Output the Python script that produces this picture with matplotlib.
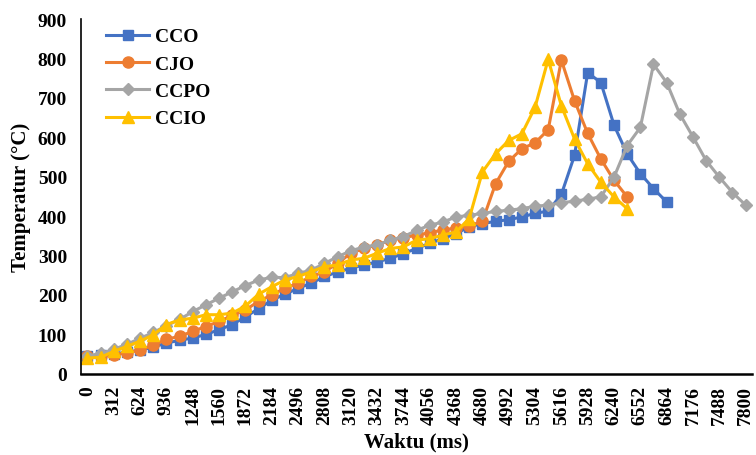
import matplotlib
matplotlib.use("Agg")
import matplotlib.pyplot as plt
import numpy as np

plt.rcParams['font.family'] = ['Liberation Serif', 'DejaVu Serif']
plt.rcParams['font.weight'] = 'bold'

times = list(range(0, 7801, 156))  # ms categories
tick_labels = [str(t) for t in range(0, 7801, 312)]

cco = [45, 47, 50, 55, 60, 68, 78, 85, 91, 100, 112, 125, 145, 165, 187, 202, 217, 230,
       247, 258, 268, 276, 284, 293, 305, 318, 331, 343, 356, 373, 381, 387, 391, 398,
       407, 413, 455, 554, 764, 739, 631, 558, 508, 470, 436]
cjo = [45, 46, 49, 53, 61, 72, 88, 95, 108, 120, 133, 148, 162, 184, 200, 217, 230, 247,
       259, 280, 306, 318, 327, 339, 345, 352, 358, 365, 370, 375, 387, 482, 539, 571,
       586, 619, 796, 693, 610, 545, 491, 449]
ccpo = [45, 52, 62, 75, 90, 105, 122, 138, 158, 175, 192, 208, 224, 238, 245, 244, 255,
        263, 280, 297, 312, 322, 327, 339, 348, 364, 377, 385, 398, 402, 407, 412, 415,
        419, 425, 428, 434, 438, 443, 449, 499, 579, 625, 785, 739, 659, 601, 541, 499,
        460, 428]
ccio = [40, 42, 57, 70, 83, 99, 125, 137, 141, 150, 150, 154, 172, 202, 221, 238, 247,
        259, 272, 276, 289, 293, 306, 318, 322, 339, 343, 352, 360, 394, 512, 558, 592,
        609, 676, 798, 680, 596, 533, 486, 449, 419]

series = [
    ("CCO", cco, "#4472C4", "s", 7.5),
    ("CJO", cjo, "#ED7D31", "o", 8),
    ("CCPO", ccpo, "#A5A5A5", "D", 6),
    ("CCIO", ccio, "#FFC000", "^", 8.5),
]

fig = plt.figure(figsize=(7.56, 4.56), dpi=100)
ax = fig.add_axes([0.107, 0.178, 0.888, 0.778])

for name, vals, col, mk, ms in series:
    x = np.arange(len(vals))
    ax.plot(x, vals, color=col, marker=mk, markersize=ms, linewidth=2.2,
            markeredgecolor=col, label=name)

ax.set_xlim(-0.5, len(times) - 0.5)
ax.set_ylim(0, 900)
ax.set_yticks(range(0, 901, 100))
ax.set_yticklabels([str(v) for v in range(0, 901, 100)], fontsize=14, fontweight='bold')
ax.set_xticks(range(0, len(times), 2))
ax.set_xticklabels(tick_labels, rotation=90, fontsize=14, fontweight='bold')
ax.tick_params(axis='both', length=0)
ax.tick_params(axis='y', pad=10)
ax.tick_params(axis='x', pad=8)

for s in ['top', 'right']:
    ax.spines[s].set_visible(False)
ax.spines['left'].set_linewidth(1.2)
ax.spines['bottom'].set_linewidth(1.8)
ax.spines['left'].set_color('black')
ax.spines['bottom'].set_color('black')

ax.set_ylabel("Temperatur (°C)", fontsize=15, fontweight='bold', labelpad=5)
ax.set_xlabel("Waktu (ms)", fontsize=15, fontweight='bold', labelpad=5)

leg = ax.legend(loc='upper left', bbox_to_anchor=(0.012, 1.025), frameon=False,
                prop={'size': 14, 'weight': 'bold'}, handlelength=2.2,
                handletextpad=0.3, labelspacing=0.5)

fig.savefig("out.png", dpi=100)
